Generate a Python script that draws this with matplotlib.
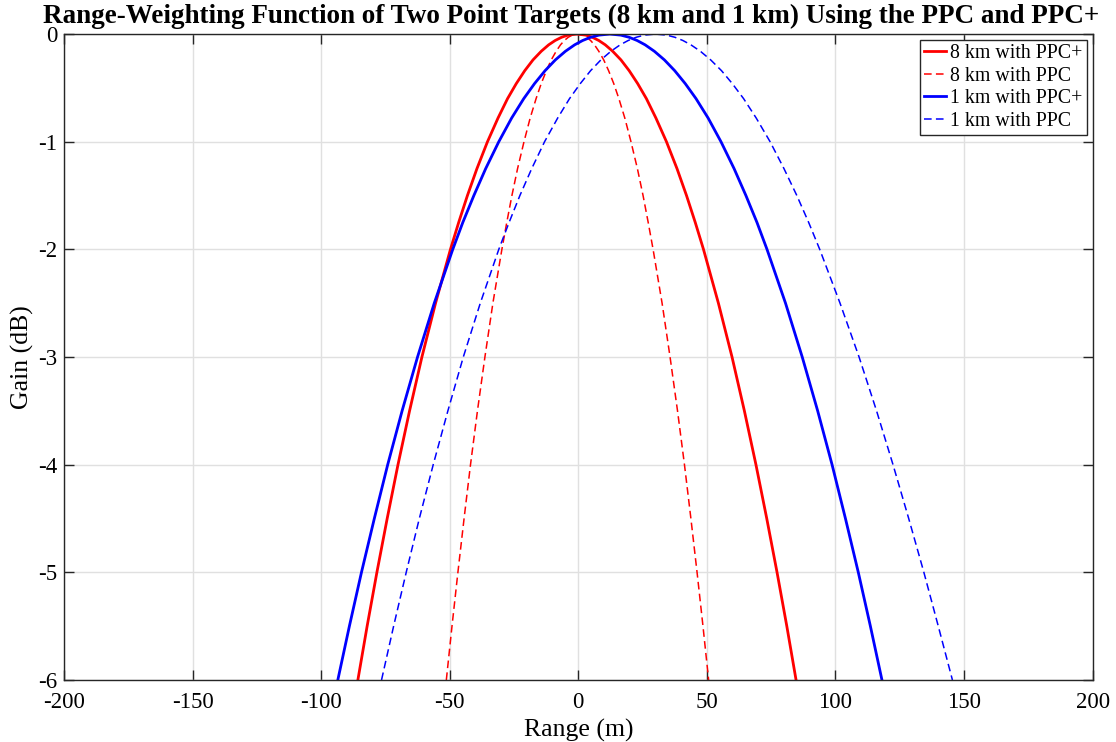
import numpy as np
import matplotlib
matplotlib.use("Agg")
import matplotlib.pyplot as plt

plt.rcParams["font.family"] = ["Liberation Serif", "DejaVu Serif"]
plt.rcParams["axes.unicode_minus"] = False

levels = [0, -0.01, -0.03, -0.06, -0.1, -0.16, -0.24, -0.34, -0.46, -0.6, -0.78,
          -1, -1.25, -1.5, -1.75, -2, -2.5, -3, -3.5, -4, -4.5, -5, -5.5, -6]

# range (m) of the left / right edge of each curve at those levels
red_plus_left = [-0.5, -4.0, -6.5, -9.0, -11.5, -14.4, -17.6, -20.8, -24.1, -27.5, -31.2,
                 -35.3, -39.4, -43.1, -46.5, -49.7, -55.5, -60.8, -65.6, -70.1, -74.3, -78.3, -82.1, -85.7]
red_plus_right = [-0.5, 3.0, 5.5, 8.0, 10.5, 13.4, 16.6, 19.8, 23.1, 26.5, 30.2,
                  34.3, 38.4, 42.1, 45.5, 48.7, 54.5, 59.8, 64.6, 69.1, 73.3, 77.3, 81.1, 84.7]

red_ppc_left = [-0.3, -2.4, -3.9, -5.4, -6.9, -8.6, -10.5, -12.4, -14.4, -16.4, -18.7,
                -21.1, -23.6, -25.8, -27.8, -29.7, -33.2, -36.3, -39.2, -41.9, -44.4, -46.8, -49.1, -51.3]
red_ppc_right = [-0.3, 1.8, 3.3, 4.8, 6.3, 8.0, 9.9, 11.8, 13.8, 15.8, 18.1,
                 20.5, 23.0, 25.2, 27.2, 29.1, 32.6, 35.7, 38.6, 41.3, 43.8, 46.2, 48.5, 50.7]

blue_plus_left = [12.3, 8.0, 4.8, 1.7, -1.4, -5.0, -8.9, -12.9, -17.0, -21.2, -25.9,
                  -30.9, -36.0, -40.6, -44.9, -48.8, -56.0, -62.5, -68.5, -74.1, -79.3, -84.3, -89.0, -93.5]
blue_plus_right = [12.3, 16.6, 19.8, 22.9, 26.0, 29.6, 33.5, 37.5, 41.6, 45.8, 50.5,
                   55.5, 60.6, 65.2, 69.5, 73.4, 80.6, 87.1, 93.1, 98.7, 103.9, 108.9, 113.6, 118.1]

blue_ppc_left = [30.0, 25.7, 22.5, 19.4, 16.3, 12.7, 8.8, 4.8, 0.8, -3.4, -8.0,
                 -13.1, -18.1, -22.7, -26.9, -30.9, -38.1, -44.7, -50.7, -56.4, -61.8, -66.9, -71.8, -76.5]
blue_ppc_right = [30.0, 34.4, 37.6, 40.7, 43.8, 47.5, 51.5, 55.7, 59.9, 64.3, 69.2,
                  74.6, 80.0, 85.0, 89.6, 93.9, 101.8, 109.2, 116.0, 122.4, 128.5, 134.4, 140.0, 145.5]

labels = ["8 km with PPC+", "8 km with PPC", "1 km with PPC+", "1 km with PPC"]


def curve(left, right):
    x = list(reversed(left)) + list(right[1:])
    y = list(reversed(levels)) + list(levels[1:])
    return x, y


fig = plt.figure(figsize=(11.16, 7.42), dpi=100)
ax = fig.add_axes([0.0573, 0.0836, 0.9217, 0.8705])

x, y = curve(red_plus_left, red_plus_right)
ax.plot(x, y, color="#ff0000", lw=2.0, label=labels[0])
x, y = curve(red_ppc_left, red_ppc_right)
ax.plot(x, y, color="#ff0000", lw=1.1, dashes=(5, 2.8), label=labels[1])
x, y = curve(blue_plus_left, blue_plus_right)
ax.plot(x, y, color="#0000ff", lw=2.0, label=labels[2])
x, y = curve(blue_ppc_left, blue_ppc_right)
ax.plot(x, y, color="#0000ff", lw=1.1, dashes=(5, 2.8), label=labels[3])

ax.set_xlim(-200, 200)
ax.set_ylim(-6, 0)
ax.set_xticks(np.arange(-200, 201, 50))
ax.set_yticks(np.arange(-6, 1, 1))
ax.grid(True, color="#e0e0e0", lw=1.0)
ax.set_axisbelow(True)
for s in ax.spines.values():
    s.set_color("#262626")
    s.set_linewidth(1.0)
ax.tick_params(direction="in", length=7, width=1.0, colors="#262626",
               labelsize=16.5, top=True, right=True)
ax.tick_params(axis="x", pad=9)
ax.tick_params(axis="y", pad=5)
for t in ax.get_xticklabels() + ax.get_yticklabels():
    t.set_color("black")

ax.set_xlabel("Range (m)", fontsize=18.5, labelpad=4)
ax.set_ylabel("Gain (dB)", fontsize=18.5, labelpad=3)
ax.set_title("Range-Weighting Function of Two Point Targets (8 km and 1 km) Using the PPC and PPC+",
             fontsize=19.5, fontweight="bold", pad=8, x=0.493)

leg = ax.legend(loc="upper right", fontsize=14.3, frameon=True, fancybox=False,
                edgecolor="#262626", framealpha=1, handlelength=1.1, handletextpad=0.2,
                labelspacing=0.18, borderpad=0.2, borderaxespad=0.3)
leg.get_frame().set_linewidth(1.0)

fig.savefig("out.png", dpi=100)
